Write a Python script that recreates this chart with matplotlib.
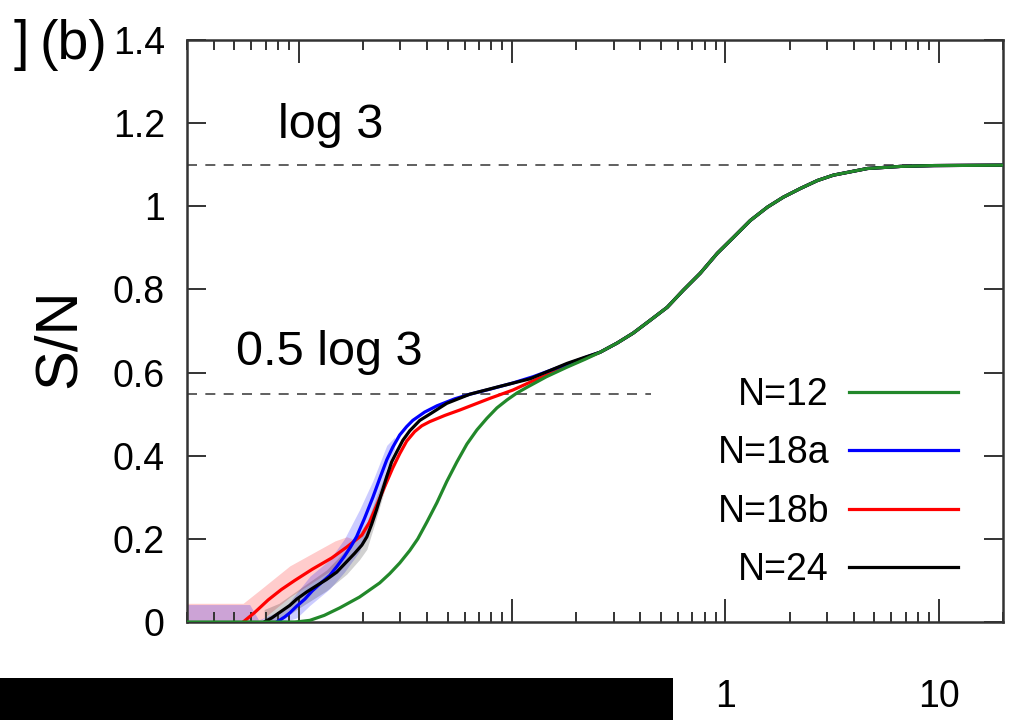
"""
plot.py
=======
Entanglement entropy per site S/N versus coupling (log x axis), panel (b).
Curves for N=12, 18a, 18b, 24 with shaded error bands on the small-N side.
"""

import numpy as np
import matplotlib.pyplot as plt
from matplotlib.patches import Rectangle
from matplotlib.ticker import FormatStrFormatter, LogLocator

plt.rcParams["font.family"] = ["Liberation Sans", "DejaVu Sans"]

# ----- data ----------------------------------------------------------------

# shared tail where all four curves lie on top of each other
x_tail = [0.259, 0.311, 0.370, 0.445, 0.534, 0.635, 0.763, 0.917, 1.09, 1.31,
          1.575, 1.87, 2.25, 2.70, 3.21, 4.64, 6.63, 9.47, 20.0]
s_tail = [0.649, 0.671, 0.695, 0.726, 0.757, 0.798, 0.839, 0.887, 0.925, 0.966,
          0.998, 1.022, 1.043, 1.062, 1.075, 1.091, 1.096, 1.098, 1.099]

x_n12 = [0.003, 0.0096, 0.0101, 0.0113, 0.0132, 0.0156, 0.0193, 0.024, 0.0267,
         0.0298, 0.0332, 0.0362, 0.0399, 0.0445, 0.0495, 0.0552, 0.0615, 0.0685,
         0.0763, 0.085, 0.0947, 0.1056, 0.118, 0.145, 0.181, 0.22]
s_n12 = [0.0, 0.0, 0.001, 0.004, 0.016, 0.034, 0.060, 0.094, 0.116,
         0.142, 0.172, 0.200, 0.240, 0.287, 0.338, 0.385, 0.428, 0.462,
         0.490, 0.515, 0.534, 0.551, 0.565, 0.590, 0.613, 0.632]

x_n18a = [0.0079, 0.0086, 0.0091, 0.0098, 0.0107, 0.0116, 0.0128, 0.014, 0.0152,
          0.0164, 0.0175, 0.0187, 0.0204, 0.0223, 0.024, 0.0259, 0.0276, 0.0298,
          0.0321, 0.0343, 0.039, 0.0445, 0.054, 0.0635, 0.0788, 0.101, 0.1255,
          0.181, 0.22]
s_n18a = [0.0, 0.012, 0.022, 0.038, 0.055, 0.075, 0.095, 0.112, 0.135,
          0.158, 0.180, 0.205, 0.250, 0.300, 0.345, 0.390, 0.420, 0.450,
          0.470, 0.485, 0.505, 0.520, 0.537, 0.548, 0.560, 0.575, 0.590,
          0.620, 0.636]

x_n18b = [0.0055, 0.0062, 0.0072, 0.0083, 0.0096, 0.0116, 0.0143, 0.0168, 0.0198,
          0.0215, 0.0232, 0.0253, 0.0276, 0.0298, 0.0321, 0.035, 0.0378, 0.0412,
          0.0485, 0.057, 0.0788, 0.101, 0.1255, 0.181, 0.22]
s_n18b = [0.0, 0.022, 0.053, 0.078, 0.100, 0.127, 0.154, 0.180, 0.209,
          0.240, 0.280, 0.325, 0.370, 0.405, 0.435, 0.458, 0.472, 0.482,
          0.497, 0.510, 0.538, 0.558, 0.580, 0.615, 0.634]

x_n24 = [0.0069, 0.0075, 0.0081, 0.0091, 0.0098, 0.0109, 0.0122, 0.0135, 0.0151,
         0.0168, 0.0183, 0.0198, 0.0209, 0.022, 0.0232, 0.0245, 0.0259, 0.0273,
         0.0289, 0.0308, 0.0332, 0.037, 0.0412, 0.0495, 0.0635, 0.085, 0.1215,
         0.181, 0.22]
s_n24 = [0.0, 0.010, 0.022, 0.040, 0.055, 0.072, 0.088, 0.102, 0.120,
         0.145, 0.165, 0.185, 0.205, 0.235, 0.270, 0.310, 0.350, 0.385,
         0.410, 0.437, 0.460, 0.485, 0.500, 0.526, 0.548, 0.565, 0.585,
         0.622, 0.637]

# error bands
x_band_18b = [0.003, 0.0055, 0.0067, 0.0091, 0.0116, 0.0148, 0.0168, 0.0179]
lo_band_18b = [0.0, 0.0, 0.005, 0.060, 0.095, 0.130, 0.165, 0.195]
hi_band_18b = [0.045, 0.045, 0.080, 0.135, 0.165, 0.195, 0.205, 0.200]

x_band_18a = [0.003, 0.0059, 0.0065, 0.0085, 0.0098, 0.0113, 0.014, 0.0164,
              0.0193, 0.0223, 0.0259, 0.0282]
lo_band_18a = [0.0, 0.0, 0.0, 0.0, 0.010, 0.040, 0.080, 0.120,
               0.170, 0.260, 0.370, 0.415]
hi_band_18a = [0.042, 0.042, 0.005, 0.030, 0.070, 0.110, 0.150, 0.200,
               0.270, 0.340, 0.425, 0.445]

x_band_24 = [0.0069, 0.0081, 0.0098, 0.0135, 0.0168, 0.0193, 0.0209, 0.0227, 0.0259]
lo_band_24 = [0.0, 0.0, 0.030, 0.075, 0.115, 0.150, 0.175, 0.235, 0.335]
hi_band_24 = [0.030, 0.045, 0.075, 0.125, 0.175, 0.215, 0.240, 0.290, 0.365]

labels = ["N=12", "N=18a", "N=18b", "N=24"]
colors = ["#22882a", "#0000ff", "#ff0000", "#000000"]

LOG3 = np.log(3)

# ----- rendering -----------------------------------------------------------

fig = plt.figure(figsize=(10.14, 7.2), dpi=100)
ax = fig.add_axes([0.1844, 0.1361, 0.8047, 0.8083])

ax.fill_between(x_band_18b, lo_band_18b, hi_band_18b, color="#ff0000", alpha=0.2, lw=0)
ax.fill_between(x_band_18a, lo_band_18a, hi_band_18a, color="#0000ff", alpha=0.2, lw=0)
ax.fill_between(x_band_24, lo_band_24, hi_band_24, color="#000000", alpha=0.18, lw=0)

ax.axhline(LOG3, color="#444444", lw=1.2, ls=(0, (6, 5)))
ax.hlines(0.5 * LOG3, 0.003, 0.45, color="#444444", lw=1.2, ls=(0, (6, 5)))

series = [(x_n12, s_n12), (x_n18a, s_n18a), (x_n18b, s_n18b), (x_n24, s_n24)]
zorders = [5, 4, 3, 4.5]
for (xs, ss), lab, col, zo in zip(series, labels, colors, zorders):
    ax.plot(xs + x_tail, ss + s_tail, color=col, lw=2.3, label=lab, zorder=zo,
            solid_joinstyle="round")

ax.set_xscale("log")
ax.set_xlim(0.003, 20)
ax.set_ylim(0, 1.4)
ax.set_yticks(np.arange(0, 1.41, 0.2))
ax.yaxis.set_major_formatter(FormatStrFormatter("%g"))
ax.xaxis.set_major_locator(LogLocator(base=10))
ax.xaxis.set_minor_locator(LogLocator(base=10, subs=np.arange(2, 10)))
ax.xaxis.set_major_formatter(FormatStrFormatter("%g"))
ax.xaxis.set_minor_formatter(plt.NullFormatter())

ax.tick_params(which="both", direction="in", top=True, right=True,
               labelsize=27, color="#333333")
ax.tick_params(axis="x", which="major", length=16.5, width=1.4, pad=41)
ax.tick_params(axis="x", which="minor", length=7.2, width=1.4)
ax.tick_params(axis="y", which="major", length=13.5, width=1.4, pad=16)
for sp in ax.spines.values():
    sp.set_linewidth(1.8)
    sp.set_color("#333333")

ax.set_ylabel("S/N", fontsize=43)
ax.yaxis.set_label_coords(-0.123, 0.488)

ax.text(0.008, 1.195, "log 3", fontsize=35, va="center", ha="left")
ax.text(0.0051, 0.649, "0.5 log 3", fontsize=35, va="center", ha="left")

ax.legend(loc="lower right", bbox_to_anchor=(0.945, 0.058), frameon=False,
          markerfirst=False, fontsize=27, handlelength=2.9, handletextpad=0.54,
          labelspacing=0.6, borderpad=0, borderaxespad=0)

fig.text(0.039, 0.9375, "(b)", fontsize=40, va="center", ha="left")
fig.text(0.0285, 0.9375, "]", fontsize=40, va="center", ha="right")

# redaction bar along the bottom edge of the panel
fig.add_artist(Rectangle((0, 0), 673 / 1014, 42 / 720, transform=fig.transFigure,
                         facecolor="black", edgecolor="none", zorder=10))

fig.savefig("out.png", dpi=100)
